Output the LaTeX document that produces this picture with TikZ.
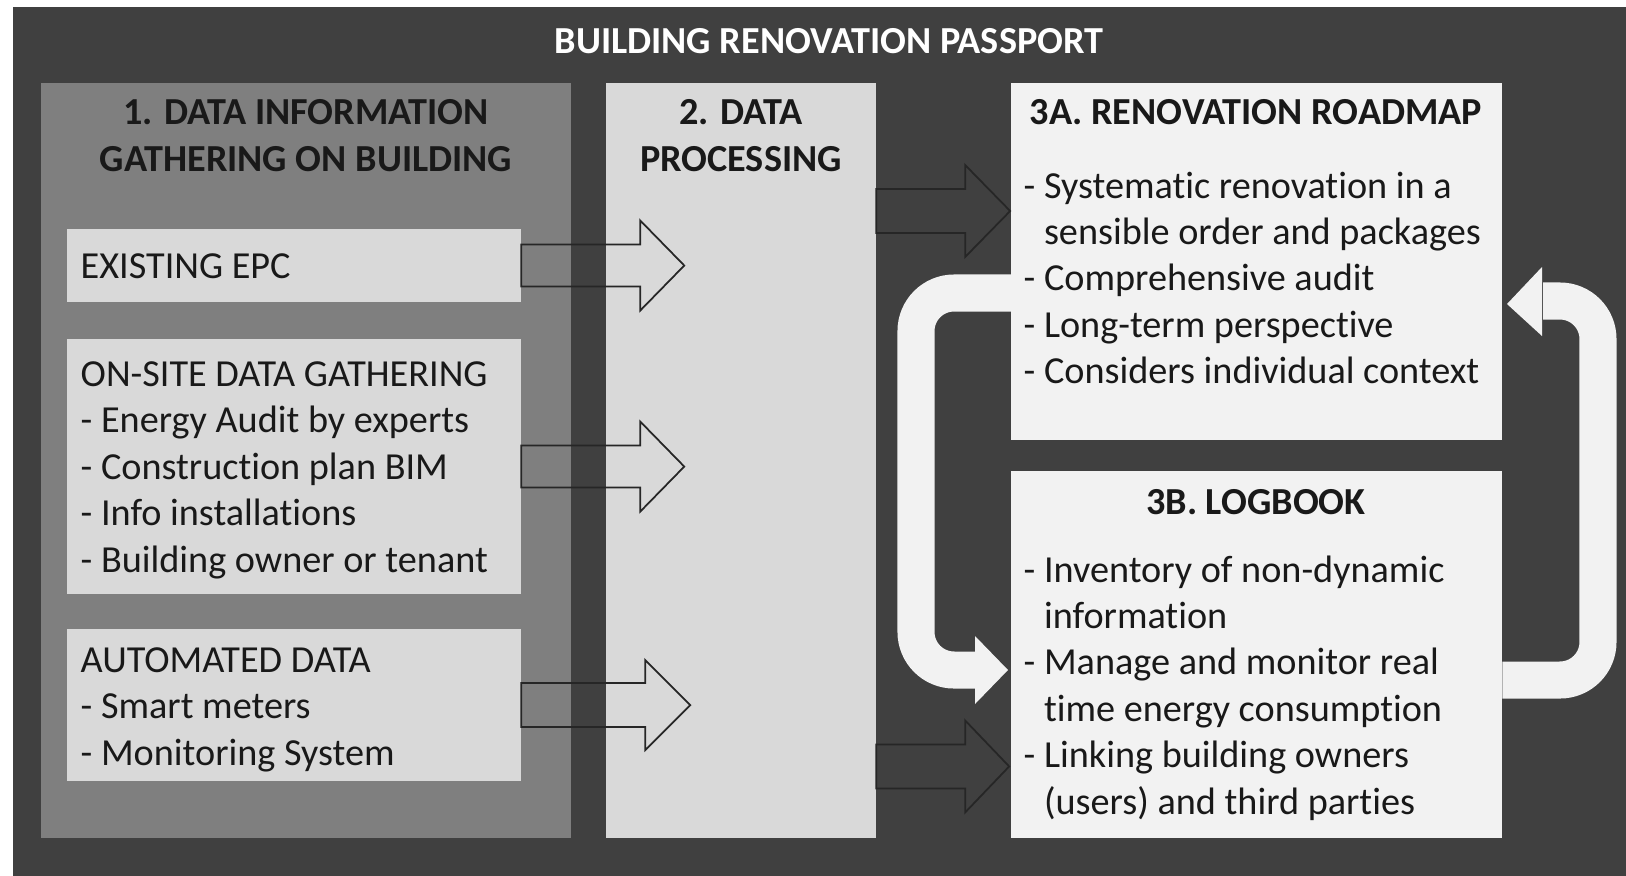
\documentclass[tikz,border=0pt]{standalone}
\usepackage{fontspec}
\setmainfont{Carlito}[RawFeature={-liga;-clig;-calt}]
\usepackage{xcolor}

\definecolor{bgdark}{HTML}{404040}
\definecolor{midgray}{HTML}{7F7F7F}
\definecolor{lightgray}{HTML}{D9D9D9}
\definecolor{palegray}{HTML}{F2F2F2}

\begin{document}
\begin{tikzpicture}[x=0.01cm,y=-0.01cm,
  panelbox/.style={anchor=north west,inner sep=0,outer sep=0},
  txt/.style={anchor=base west,inner sep=0,text=black!90,font=\fontsize{10.87}{13.26}\selectfont},
  heading/.style={anchor=base,inner sep=0,text=black!90,font=\fontsize{10.87}{13.26}\selectfont\bfseries},
  hollow/.style={draw=black!85,line width=0.5pt},
  band/.style={draw=palegray,line width=0.37cm,rounded corners=0.38cm}]
\useasboundingbox (0,0) rectangle (1626,875);
\node[panelbox,fill=bgdark,minimum width=16.13cm,minimum height=8.68cm] (bg) at (13,7) {};
\node[panelbox,fill=midgray,minimum width=5.30cm,minimum height=7.55cm] (gather) at (41,83) {};
\node[panelbox,fill=lightgray,minimum width=2.70cm,minimum height=7.55cm] (proc) at (606,83) {};
\node[panelbox,fill=lightgray,minimum width=4.54cm,minimum height=0.73cm] (epc) at (67,229) {};
\node[panelbox,fill=lightgray,minimum width=4.54cm,minimum height=2.55cm] (site) at (67,339) {};
\node[panelbox,fill=lightgray,minimum width=4.54cm,minimum height=1.52cm] (auto) at (67,629) {};
\node[panelbox,fill=palegray,minimum width=4.91cm,minimum height=3.57cm] (road) at (1011,83) {};
\node[panelbox,fill=palegray,minimum width=4.91cm,minimum height=3.67cm] (log) at (1011,471) {};

\node[heading,text=white] (title) at (829,53) {BUILDING RENOVATION PASSPORT};
\node[heading] (h1a) at (306,124) {1. DATA INFORMATION};
\node[heading] (h1b) at (306,171) {GATHERING ON BUILDING};
\node[heading] (h2a) at (741,124) {2. DATA};
\node[heading] (h2b) at (741,171) {PROCESSING};
\node[heading] (h3a) at (1256,124) {3A. RENOVATION ROADMAP};
\node[heading] (h3b) at (1256,514) {3B. LOGBOOK};

\node[txt] (epc0) at (80,278) {EXISTING EPC};
\foreach \t [count=\i from 0] in {ON-SITE DATA GATHERING,- Energy Audit by experts,- Construction plan BIM,- Info installations,- Building owner or tenant}
  \node[txt] (site\i) at (80,{386+46.6*\i}) {\t};
\foreach \t [count=\i from 0] in {AUTOMATED DATA,- Smart meters,- Monitoring System}
  \node[txt] (auto\i) at (80,{672+46.6*\i}) {\t};
\foreach \t [count=\i from 0] in {- Systematic renovation in a,\phantom{- }sensible order and packages,- Comprehensive audit,- Long-term perspective,- Considers individual context}
  \node[txt] (road\i) at (1023,{198+46.4*\i}) {\t};
\foreach \t [count=\i from 0] in {- Inventory of non-dynamic,\phantom{- }information,- Manage and monitor real,\phantom{- }time energy consumption,- Linking building owners,\phantom{- }(users) and third parties}
  \node[txt] (log\i) at (1023,{582+46.4*\i}) {\t};

\draw[hollow,shift={(epc.east)}] (0,-21) -- (119,-21) -- (119,-45) -- (163,0) -- (119,45) -- (119,21) -- (0,21) -- cycle;
\draw[hollow,shift={(site.east)}] (0,-21) -- (119,-21) -- (119,-45) -- (163,0) -- (119,45) -- (119,21) -- (0,21) -- cycle;
\draw[hollow,shift={(auto.east)}] (0,-22) -- (124,-22) -- (124,-45) -- (169,0) -- (124,45) -- (124,22) -- (0,22) -- cycle;
\draw[hollow,shift={(proc.north east)}] (0,106) -- (89,106) -- (89,82) -- (134,128) -- (89,174) -- (89,150) -- (0,150) -- cycle;
\draw[hollow,shift={(proc.south east)}] (0,-94) -- (89,-94) -- (89,-118) -- (133,-72) -- (89,-26) -- (89,-50) -- (0,-50) -- cycle;

\draw[band] (road.west |- 0,293) -- (916,293) -- (916,670) -- (976,670);
\fill[palegray] (975,636) -- (1008,670) -- (975,704) -- cycle;
\draw[band] (log.east |- 0,680) -- (1598,680) -- (1598,301) -- (1543,301);
\fill[palegray] (1542,267) -- (1507,304) -- (1542,336) -- cycle;
\end{tikzpicture}
\end{document}
